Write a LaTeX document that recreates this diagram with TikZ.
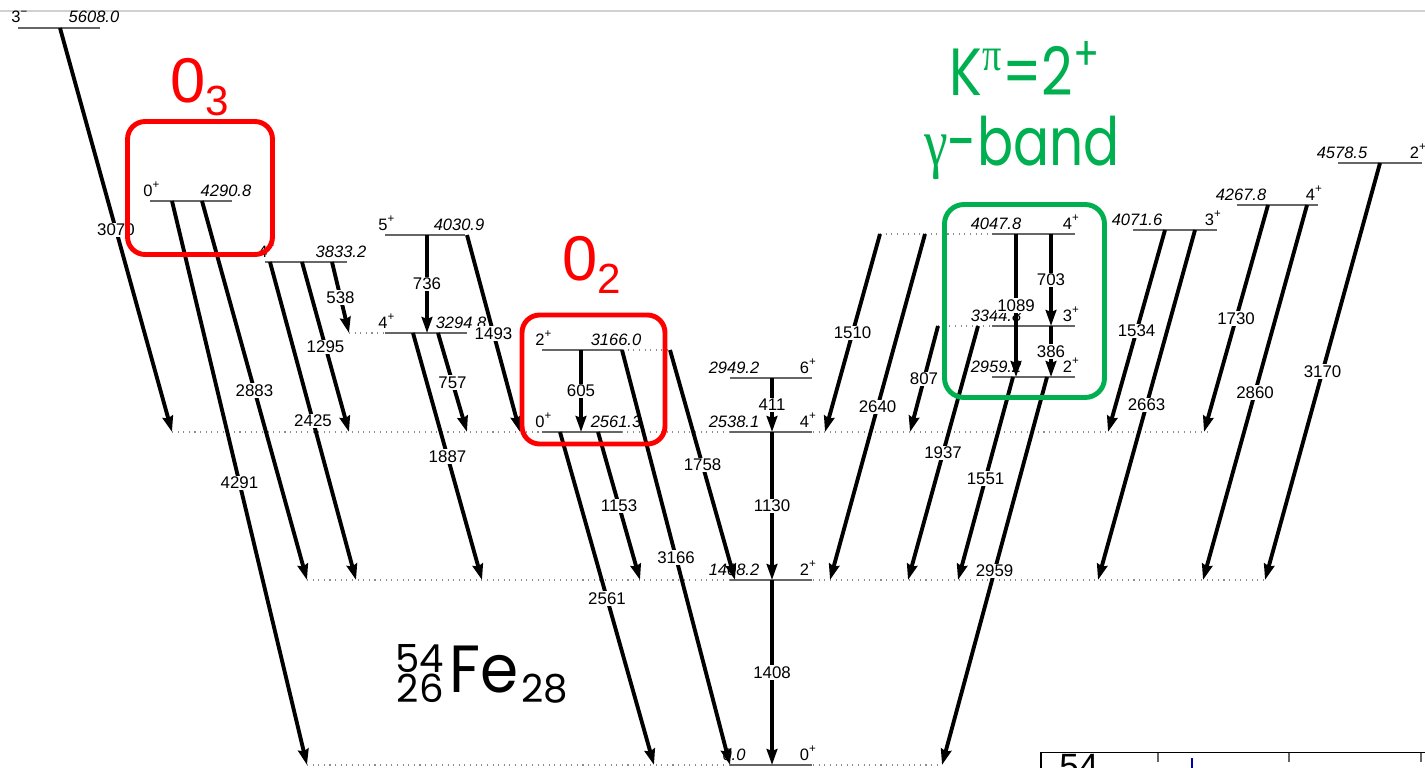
\documentclass[tikz,border=0pt]{standalone}
\usepackage{fix-cm}
\usepackage{fontspec}
\setmainfont{Liberation Sans}
\newfontfamily\handfont{Poppins}
\newfontfamily\greekserif{Liberation Serif}
\usetikzlibrary{arrows.meta}

\definecolor{boxred}{RGB}{255,0,0}
\definecolor{boxgreen}{RGB}{0,176,80}

\tikzset{
  lev/.style={draw=black!60, line width=0.6pt},
  dots/.style={draw=black!45, line width=0.6pt, dash pattern=on 0.6pt off 2.6pt},
  gamma/.style={line width=2.2pt, -{Stealth[length=9pt,width=6pt,inset=1pt]}},
  glab/.style={fill=white, inner sep=0.8pt, font=\fontsize{9.6}{10}\selectfont},
  elab/.style={inner sep=0pt, anchor=base, font=\fontsize{9.4}{10}\selectfont\itshape},
  slab/.style={inner sep=0pt, font=\fontsize{9.4}{10}\selectfont},
  rbox/.style={draw=boxred, line width=2.8pt, rounded corners=10pt, inner sep=0pt},
  gbox/.style={draw=boxgreen, line width=2.8pt, rounded corners=11pt, inner sep=0pt},
  hand/.style={inner sep=0pt, anchor=base west, font=\handfont\fontsize{38}{38}\selectfont},
  iso/.style={inner sep=0pt, font=\handfont\fontsize{22}{22}\selectfont},
}

% J^pi with a positive parity
\newcommand\spn[1]{#1\textsuperscript{+}}

% level with spin on the left and energy on the right: name, x1, x2, y, spin, energy
\newcommand\lvlL[6]{%
  \coordinate (#1a) at (#2,#4);
  \coordinate (#1b) at (#3,#4);
  \draw[lev] (#1a) -- (#1b);
  \node[slab, anchor=base west] (#1s) at (#2-7,#4-5) {#5};
  \node[elab] (#1e) at (#3-6,#4-5) {#6};
}
% level with energy on the left and spin on the right: name, x1, x2, y, energy, spin
\newcommand\lvlR[6]{%
  \coordinate (#1a) at (#2,#4);
  \coordinate (#1b) at (#3,#4);
  \draw[lev] (#1a) -- (#1b);
  \node[elab] (#1e) at (#2+4,#4-5) {#5};
  \node[slab, anchor=base east] (#1s) at (#3+5,#4-5) {#6};
}
% dotted guide line at a level: name, x1, x2, y
\newcommand\guide[4]{%
  \coordinate (#1a) at (#2,#4);
  \coordinate (#1b) at (#3,#4);
  \draw[dots] (#1a) -- (#1b);
}
% gamma transition: x1, y1, x2, y2, energy
\newcommand\gline[5]{%
  \coordinate (g#5s) at (#1,#2);
  \coordinate (g#5e) at (#3,#4);
  \draw[gamma] (g#5s) -- (g#5e) node[glab, midway] (t#5) {#5};
}

\begin{document}
\begin{tikzpicture}[x=0.02cm, y=-0.02cm]
\useasboundingbox (0,0) rectangle (1425,767);

% thin rule along the top
\coordinate (topl) at (0,11);
\coordinate (topr) at (1425,11);
\draw[black!18, line width=0.6pt] (topl) -- (topr);

% dotted guides
\guide{D2538}{172}{1207}{432}
\guide{D1408}{307}{1265}{580}
\guide{D0}{307}{942}{765}
\guide{D3295}{349}{385}{333}
\guide{D3166}{622}{670}{350}
\guide{D4048}{880}{992}{234}
\guide{D3345}{938}{992}{326}

% levels
\lvlL{L5608}{18}{100}{28}{3\textsuperscript{−}}{5608.0}
\lvlL{L4291}{150}{232}{201}{\spn{0}}{4290.8}
\lvlL{L4031}{385}{465}{235}{\spn{5}}{4030.9}
\lvlL{L3833}{265}{347}{262}{\spn{4}}{3833.2}
\lvlL{L3295}{385}{467}{333}{\spn{4}}{3294.8}
\lvlL{L3166}{542}{622}{350}{\spn{2}}{3166.0}
\lvlL{L2561}{542}{622}{432}{\spn{0}}{2561.3}
\lvlR{L2949}{730}{812}{378}{2949.2}{\spn{6}}
\lvlR{L2538}{730}{812}{432}{2538.1}{\spn{4}}
\lvlR{L1408}{730}{812}{580}{1408.2}{\spn{2}}
\lvlR{L0}{730}{812}{765}{0.0}{\spn{0}}
\lvlR{L4048}{992}{1075}{234}{4047.8}{\spn{4}}
\lvlR{L3345}{992}{1075}{326}{3344.8}{\spn{3}}
\lvlR{L2959}{992}{1075}{377}{2959.2}{\spn{2}}
\lvlR{L4072}{1133}{1217}{230}{4071.6}{\spn{3}}
\lvlR{L4268}{1237}{1318}{205}{4267.8}{\spn{4}}
\lvlR{L4579}{1338}{1422}{163}{4578.5}{\spn{2}}

% gamma transitions
\gline{60}{28}{172}{432}{3070}
\gline{172}{201}{307}{765}{4291}
\gline{202}{201}{307}{580}{2883}
\gline{270}{262}{356}{580}{2425}
\gline{302}{262}{349}{432}{1295}
\gline{332}{262}{349}{333}{538}
\gline{427}{235}{427}{333}{736}
\gline{467}{235}{520}{432}{1493}
\gline{438}{333}{467}{432}{757}
\gline{413}{333}{482}{580}{1887}
\gline{581}{350}{581}{432}{605}
\gline{622}{350}{730}{765}{3166}
\gline{670}{350}{735}{580}{1758}
\gline{598}{432}{640}{580}{1153}
\gline{560}{432}{654}{765}{2561}
\gline{772}{378}{772}{432}{411}
\gline{772}{432}{772}{580}{1130}
\gline{772}{580}{772}{765}{1408}
\gline{880}{234}{825}{432}{1510}
\gline{925}{234}{830}{580}{2640}
\gline{938}{326}{910}{432}{807}
\gline{978}{326}{908}{580}{1937}
\gline{1016}{234}{1016}{377}{1089}
\gline{1051}{234}{1051}{326}{703}
\gline{1051}{326}{1051}{377}{386}
\gline{1013}{377}{958}{580}{1551}
\gline{1047}{377}{942}{765}{2959}
\gline{1165}{230}{1108}{432}{1534}
\gline{1195}{230}{1098}{580}{2663}
\gline{1268}{205}{1204}{432}{1730}
\gline{1307}{205}{1203}{580}{2860}
\gline{1380}{163}{1265}{580}{3170}

% highlighted groups
\node[rbox, minimum width=2.9cm, minimum height=2.66cm] (box03) at (200,188) {};
\node[rbox, minimum width=2.86cm, minimum height=2.58cm] (box02) at (593.5,379.5) {};
\node[gbox, minimum width=3.2cm, minimum height=3.86cm] (boxg) at (1024.5,301) {};

\node[inner sep=0pt, anchor=base west, text=boxred, font=\fontsize{36}{36}\selectfont]
  (lab03) at (170,102) {0\raisebox{-7.4pt}{\fontsize{24}{24}\selectfont 3}};
\node[inner sep=0pt, anchor=base west, text=boxred, font=\fontsize{36}{36}\selectfont]
  (lab02) at (562,280) {0\raisebox{-7.4pt}{\fontsize{24}{24}\selectfont 2}};

\node[hand, text=boxgreen] (kpi) at (949,95)
  {\scalebox{0.82}[1]{K\textsuperscript{\greekserif π}=2\textsuperscript{+}}};
\node[hand, text=boxgreen] (gband) at (924,165)
  {\scalebox{0.8}[1]{{\greekserif γ}-band}};

% nucleus name
\node[hand] (fe) at (449,692) {\scalebox{0.92}[1]{Fe}};
\node[iso, anchor=base east] (massA) at (444,672) {54};
\node[iso, anchor=base east] (chargeZ) at (444,702) {26};
\node[iso, anchor=base west] (neutN) at (521,702) {28};

% edge of the neighbouring table
\begin{scope}
  \clip (1030,745) rectangle (1425,767);
  \draw[line width=0.9pt] (1041,775) -- (1041,752.5) -- (1430,752.5);
  \foreach \tx in {1158,1289,1421} \draw[black!60, line width=0.6pt] (\tx,752.5) -- (\tx,762);
  \draw[blue!70!black, line width=0.7pt] (1192,758) -- (1192,770);
  \node[inner sep=0pt, anchor=north west, font=\fontsize{20}{20}\selectfont] (tab54) at (1059,754) {54};
\end{scope}
\end{tikzpicture}
\end{document}
